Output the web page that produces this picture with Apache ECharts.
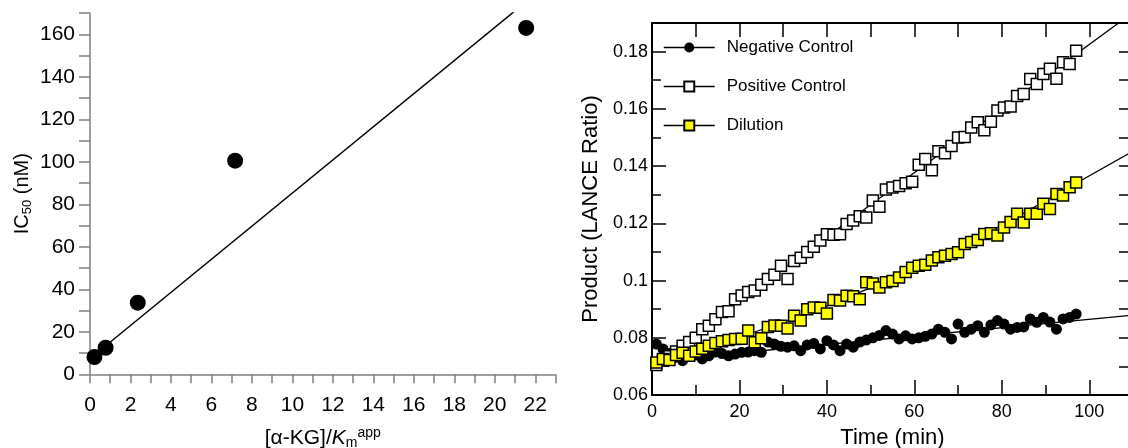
<!DOCTYPE html>
<html>
<head>
<meta charset="utf-8">
<title>IC50 shift and LANCE time course</title>
<script src="https://cdn.jsdelivr.net/npm/echarts@6/dist/echarts.min.js"></script>
<style>
html, body { margin: 0; padding: 0; background: #fff; }
#chart { width: 1128px; height: 448px; }
</style>
</head>
<body>
<div id="chart"></div>
<script>
// left panel: IC50 against [a-KG]/Km(app)
var ratioX = [0.22, 0.77, 2.36, 7.17, 21.55];
var ic50 = [8.1, 12.5, 33.7, 100.5, 163];
var ic50FitX = [0.22, 22];
var ic50FitY = [9.1, 178.8];

// right panel: product vs time
var timeMin = [1, 2.5, 4, 5.5, 7, 8.5, 10, 11.5, 13, 14.5, 16, 17.5, 19, 20.5, 22, 23.5, 25, 26.5, 28, 29.5,
  31, 32.5, 34, 35.5, 37, 38.5, 40, 41.5, 43, 44.5, 46, 47.5, 49, 50.5, 52, 53.5, 55, 56.5, 58, 59.5,
  61, 62.5, 64, 65.5, 67, 68.5, 70, 71.5, 73, 74.5, 76, 77.5, 79, 80.5, 82, 83.5, 85, 86.5, 88, 89.5,
  91, 92.5, 94, 95.5, 97];
var negCtrl = [0.0778, 0.0761, 0.0745, 0.0732, 0.0720, 0.0738, 0.0740, 0.0726, 0.0737, 0.0750,
  0.0745, 0.0737, 0.0743, 0.0749, 0.0750, 0.0755, 0.0749, 0.0785, 0.0778, 0.0770,
  0.0767, 0.0772, 0.0755, 0.0775, 0.0780, 0.0761, 0.0790, 0.0775, 0.0755, 0.0778,
  0.0767, 0.0785, 0.0792, 0.0800, 0.0808, 0.0825, 0.0813, 0.0796, 0.0807, 0.0796,
  0.0800, 0.0805, 0.0813, 0.0830, 0.0819, 0.0796, 0.0848, 0.0819, 0.0830, 0.0842,
  0.0819, 0.0845, 0.0860, 0.0848, 0.0830, 0.0836, 0.0838, 0.0866, 0.0854, 0.0871,
  0.0855, 0.0830, 0.0866, 0.0871, 0.0883];
var posCtrl = [0.0705, 0.0720, 0.0735, 0.0752, 0.0772, 0.0785, 0.0800, 0.0830, 0.0842, 0.0865,
  0.0890, 0.0893, 0.0935, 0.0948, 0.0960, 0.0965, 0.0985, 0.1005, 0.1020, 0.1052,
  0.1005, 0.1068, 0.1080, 0.1100, 0.1118, 0.1140, 0.1162, 0.1160, 0.1162, 0.1198,
  0.1210, 0.1225, 0.1220, 0.1280, 0.1258, 0.1318, 0.1325, 0.1330, 0.1340, 0.1345,
  0.1405, 0.1425, 0.1385, 0.1452, 0.1445, 0.1470, 0.1500, 0.1502, 0.1535, 0.1553,
  0.1525, 0.1555, 0.1594, 0.1605, 0.1608, 0.1645, 0.1652, 0.1704, 0.1687, 0.1722,
  0.1740, 0.1705, 0.1763, 0.1757, 0.1803];
var dilution = [0.0714, 0.0726, 0.0722, 0.0740, 0.0748, 0.0737, 0.0752, 0.0762, 0.0772, 0.0782,
  0.0788, 0.0792, 0.0796, 0.0797, 0.0825, 0.0784, 0.0798, 0.0838, 0.0843, 0.0842,
  0.0832, 0.0877, 0.0860, 0.0900, 0.0906, 0.0905, 0.0885, 0.0932, 0.0930, 0.0947,
  0.0945, 0.0935, 0.0994, 0.0990, 0.0976, 0.0994, 0.0998, 0.1011, 0.1030, 0.1045,
  0.1052, 0.1055, 0.1070, 0.1081, 0.1087, 0.1093, 0.1099, 0.1128, 0.1135, 0.1142,
  0.1163, 0.1165, 0.1157, 0.1185, 0.1205, 0.1233, 0.1203, 0.1233, 0.1233, 0.1268,
  0.1250, 0.1302, 0.1297, 0.1326, 0.1343];
// fitted curves
var negFitT = [0, 110];
var negFit = [0.0718, 0.0879];
var posFitT = [0, 110];
var posFit = [0.0705, 0.1937];
var dilFitT = [0, 25, 50, 75, 97, 110];
var dilFit = [0.0715, 0.0828, 0.0975, 0.1154, 0.1340, 0.1452];

var FONT = 'Liberation Sans, Arial, Helvetica, sans-serif';

function pairs(xs, ys) {
    var out = [];
    for (var i = 0; i < xs.length; i++) {
        out.push([xs[i], ys[i]]);
    }
    return out;
}

var grayLine = { color: '#808080', width: 1.5 };
var blackLine = { color: '#000', width: 2 };
var blackTick = { color: '#000', width: 1.5 };

var option = {
    animation: false,
    backgroundColor: '#fff',
    legend: {
        data: ['Negative Control', 'Positive Control', 'Dilution'],
        orient: 'vertical',
        left: 663,
        top: 39,
        padding: 0,
        itemWidth: 51,
        itemHeight: 12.5,
        itemGap: 22,
        selectedMode: false,
        lineStyle: { color: '#000', width: 1.5, opacity: 1 },
        textStyle: { fontSize: 17, fontFamily: FONT, color: '#000', padding: [0, 0, 0, 7] }
    },
    grid: [
        { left: 90, top: 13, right: 572.5, bottom: 73.7, outerBoundsMode: 'none' },
        { left: 652, top: 23, right: -5, bottom: 53, outerBoundsMode: 'none' }
    ],
    xAxis: [
        {
            gridIndex: 0, type: 'value', position: 'bottom',
            min: 0, max: 23, interval: 1,
            axisLine: { show: true, onZero: false, lineStyle: grayLine },
            axisTick: { show: true, inside: false, length: 9, lineStyle: grayLine },
            splitLine: { show: false },
            axisLabel: {
                margin: 20, fontSize: 21, color: '#000', fontFamily: FONT,
                formatter: function (v) { return v % 2 === 0 ? String(v) : ''; }
            },
            name: '{a|[α-KG]/}{k|K}{s|m}{p|app}',
            nameLocation: 'middle', nameGap: 52, nameMoveOverlap: false,
            nameTextStyle: {
                rich: {
                    a: { fontSize: 21, fontFamily: FONT, color: '#000', lineHeight: 24 },
                    k: { fontSize: 21, fontFamily: FONT, color: '#000', fontStyle: 'italic', lineHeight: 24 },
                    s: { fontSize: 14, fontFamily: FONT, color: '#000', verticalAlign: 'bottom', lineHeight: 16 },
                    p: { fontSize: 14, fontFamily: FONT, color: '#000', verticalAlign: 'top', lineHeight: 16 }
                }
            }
        },
        {
            gridIndex: 1, type: 'value', position: 'bottom',
            min: 0, max: 110, interval: 10,
            axisLine: { show: true, onZero: false, lineStyle: blackLine },
            axisTick: { show: true, inside: true, length: 10, lineStyle: blackTick },
            splitLine: { show: false },
            axisLabel: {
                margin: 8, fontSize: 18, color: '#000', fontFamily: FONT,
                formatter: function (v) { return (v % 20 === 0 && v <= 100) ? String(v) : ''; }
            },
            name: 'Time (min)',
            nameLocation: 'middle', nameGap: 32, nameMoveOverlap: false,
            nameTextStyle: { fontSize: 22, fontFamily: FONT, color: '#000' }
        },
        {
            // longer ticks every 20 min
            gridIndex: 1, type: 'value', position: 'bottom',
            min: 0, max: 110, interval: 20,
            axisLine: { show: false, onZero: false },
            axisTick: { show: true, inside: true, length: 15, lineStyle: blackTick },
            splitLine: { show: false },
            axisLabel: { show: false }
        },
        {
            gridIndex: 1, type: 'value', position: 'top',
            min: 0, max: 110, interval: 10,
            axisLine: { show: true, onZero: false, lineStyle: blackLine },
            axisTick: { show: true, inside: true, length: 14, lineStyle: blackTick },
            splitLine: { show: false },
            axisLabel: { show: false }
        }
    ],
    yAxis: [
        {
            gridIndex: 0, type: 'value', position: 'left',
            min: 0, max: 170, interval: 10,
            axisLine: { show: true, onZero: false, lineStyle: grayLine },
            axisTick: { show: true, inside: false, length: 11, lineStyle: grayLine },
            splitLine: { show: false },
            axisLabel: {
                margin: 15, fontSize: 21, color: '#000', fontFamily: FONT,
                formatter: function (v) { return v % 20 === 0 ? String(v) : ''; }
            },
            name: '{a|IC}{s|50}{a| (nM)}',
            nameLocation: 'middle', nameGap: 56, nameMoveOverlap: false,
            nameTextStyle: {
                rich: {
                    a: { fontSize: 20, fontFamily: FONT, color: '#000', lineHeight: 24 },
                    s: { fontSize: 13, fontFamily: FONT, color: '#000', verticalAlign: 'bottom', lineHeight: 16 }
                }
            }
        },
        {
            gridIndex: 1, type: 'value', position: 'left',
            min: 0.06, max: 0.19, interval: 0.01,
            axisLine: { show: true, onZero: false, lineStyle: blackLine },
            axisTick: { show: true, inside: true, length: 9, lineStyle: blackTick },
            splitLine: { show: false },
            axisLabel: {
                margin: 4, fontSize: 18, color: '#000', fontFamily: FONT,
                formatter: function (v) {
                    var h = Math.round(v * 100);
                    return (h % 2 === 0 && h <= 18) ? String(h / 100) : '';
                }
            },
            name: 'Product (LANCE Ratio)',
            nameLocation: 'middle', nameGap: 50, nameMoveOverlap: false,
            nameTextStyle: { fontSize: 22, fontFamily: FONT, color: '#000' }
        },
        {
            // longer ticks every 0.02
            gridIndex: 1, type: 'value', position: 'left',
            min: 0.06, max: 0.19, interval: 0.02,
            axisLine: { show: false, onZero: false },
            axisTick: { show: true, inside: true, length: 14, lineStyle: blackTick },
            splitLine: { show: false },
            axisLabel: { show: false }
        },
        {
            gridIndex: 1, type: 'value', position: 'right',
            min: 0.06, max: 0.19, interval: 0.01,
            axisLine: { show: true, onZero: false, lineStyle: blackLine },
            axisTick: { show: true, inside: true, length: 14, lineStyle: blackTick },
            splitLine: { show: false },
            axisLabel: { show: false }
        }
    ],
    series: [
        {
            type: 'line', xAxisIndex: 0, yAxisIndex: 0,
            data: pairs(ic50FitX, ic50FitY),
            symbol: 'none', silent: true,
            lineStyle: { color: '#000', width: 1.5 }
        },
        {
            type: 'scatter', xAxisIndex: 0, yAxisIndex: 0,
            data: pairs(ratioX, ic50),
            symbol: 'circle', symbolSize: 16,
            itemStyle: { color: '#000', opacity: 1 }
        },
        {
            type: 'line', xAxisIndex: 1, yAxisIndex: 1,
            data: pairs(negFitT, negFit),
            symbol: 'none', silent: true,
            lineStyle: { color: '#000', width: 1.3 }
        },
        {
            type: 'line', xAxisIndex: 1, yAxisIndex: 1,
            data: pairs(posFitT, posFit),
            symbol: 'none', silent: true,
            lineStyle: { color: '#000', width: 1.3 }
        },
        {
            type: 'line', xAxisIndex: 1, yAxisIndex: 1,
            data: pairs(dilFitT, dilFit),
            symbol: 'none', silent: true, smooth: true,
            lineStyle: { color: '#000', width: 1.3 }
        },
        {
            name: 'Negative Control',
            type: 'line', xAxisIndex: 1, yAxisIndex: 1,
            data: pairs(timeMin, negCtrl),
            showSymbol: true, showAllSymbol: true,
            symbol: 'circle', symbolSize: 11,
            lineStyle: { opacity: 0 },
            itemStyle: { color: '#000', opacity: 1 }
        },
        {
            name: 'Positive Control',
            type: 'line', xAxisIndex: 1, yAxisIndex: 1,
            data: pairs(timeMin, posCtrl),
            showSymbol: true, showAllSymbol: true,
            symbol: 'rect', symbolSize: 11,
            lineStyle: { opacity: 0 },
            itemStyle: { color: '#fff', borderColor: '#000', borderWidth: 1.5, opacity: 1 }
        },
        {
            name: 'Dilution',
            type: 'line', xAxisIndex: 1, yAxisIndex: 1,
            data: pairs(timeMin, dilution),
            showSymbol: true, showAllSymbol: true,
            symbol: 'rect', symbolSize: 11,
            lineStyle: { opacity: 0 },
            itemStyle: { color: '#ffff00', borderColor: '#000', borderWidth: 1.5, opacity: 1 }
        }
    ]
};

var myChart = echarts.init(document.getElementById('chart'));
myChart.setOption(option);
</script>
</body>
</html>
